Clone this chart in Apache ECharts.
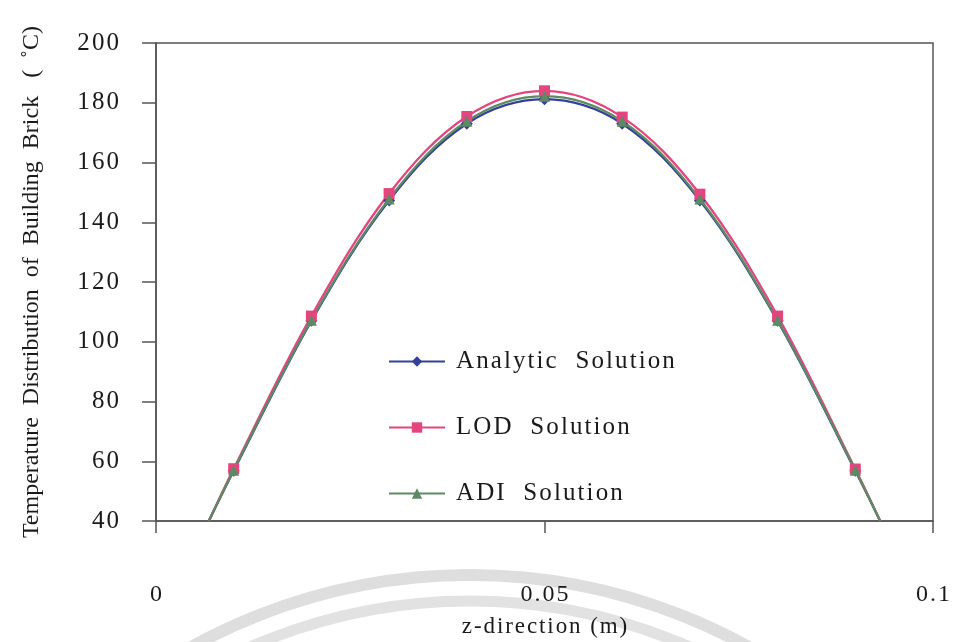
<!DOCTYPE html>
<html>
<head>
<meta charset="utf-8">
<script src="https://cdn.jsdelivr.net/npm/echarts@6/dist/echarts.min.js"></script>
<style>
  html, body { margin: 0; padding: 0; background: #ffffff; }
  #chart { width: 960px; height: 642px; }
</style>
</head>
<body>
<div id="chart"></div>
<script>
// z positions (m) across the brick wall; the first and last points are where
// each profile meets the 40 °C floor of the plot
const zPositions = [0.0068, 0.01, 0.02, 0.03, 0.04, 0.05, 0.06, 0.07, 0.08, 0.09, 0.0932];

// temperature (°C) at each z position
const analyticValues = [40, 56.8, 107.0, 147.3, 173.0, 181.2, 173.0, 147.3, 107.0, 56.8, 40];
const lodValues      = [40, 57.5, 108.6, 149.6, 175.4, 184.0, 175.2, 149.4, 108.6, 57.4, 40];
const adiValues      = [40, 57.0, 107.2, 147.8, 173.8, 182.2, 173.8, 147.8, 107.2, 57.0, 40];

const seriesNames = ['Analytic  Solution', 'LOD  Solution', 'ADI  Solution'];
const seriesColors = ['#34409a', '#e4457f', '#5c8a62'];
const seriesSymbols = ['diamond', 'rect', 'triangle'];

// y ticks: 40 .. 200 step 20, x ticks: 0, 0.05, 0.1
const yMin = 40, yMax = 200, yStep = 20;
const xMin = 0, xMax = 0.1, xStep = 0.05;

// spread the glyphs of a label a little apart
const spaced = s => String(s).split('').join('\u200A');

const serifFont = '"Liberation Serif", "DejaVu Serif", serif';
const inkColor = '#1a1a1a';
const axisColor = '#555555';

function buildSeries(idx, values) {
  const last = values.length - 1;
  return {
    name: seriesNames[idx],
    type: 'line',
    smooth: 0.35,
    clip: true,
    symbol: seriesSymbols[idx],
    symbolSize: idx === 0 ? 12 : 11,
    lineStyle: { color: seriesColors[idx], width: 2.3 },
    itemStyle: { color: seriesColors[idx], borderWidth: 0 },
    data: values.map((v, i) => {
      const item = { value: [zPositions[i], v] };
      if (i === 0 || i === last) item.symbol = 'none';
      return item;
    })
  };
}

const chart = echarts.init(document.getElementById('chart'), null, { renderer: 'canvas' });

chart.setOption({
  animation: false,
  backgroundColor: '#ffffff',
  grid: {
    left: 156, right: 27, top: 43, bottom: 121,
    containLabel: false,
    outerBoundsMode: 'none',
    show: true, borderColor: axisColor, borderWidth: 1.5, backgroundColor: 'transparent'
  },
  xAxis: {
    type: 'value',
    min: xMin, max: xMax, interval: xStep,
    name: spaced('z-direction (m)'),
    nameLocation: 'middle',
    nameGap: 94,
    nameTextStyle: { fontFamily: serifFont, fontSize: 23, color: inkColor },
    axisLine: { show: true, onZero: false, lineStyle: { color: axisColor, width: 1.5 } },
    axisTick: { show: true, inside: false, length: 12, lineStyle: { color: axisColor, width: 1.5 } },
    axisLabel: {
      margin: 62, fontFamily: serifFont, fontSize: 24, color: inkColor,
      formatter: v => spaced(v === 0 ? '0' : (Math.round(v * 100) / 100).toString())
    },
    splitLine: { show: false }
  },
  yAxis: {
    type: 'value',
    min: yMin, max: yMax, interval: yStep,
    name: 'Temperature  Distribution  of  Building  Brick   (  \u02DAC)',
    nameLocation: 'middle',
    nameRotate: 90,
    nameGap: 112,
    nameTextStyle: { fontFamily: serifFont, fontSize: 24, color: inkColor },
    axisLine: { show: true, lineStyle: { color: axisColor, width: 1.5 } },
    axisTick: { show: true, inside: false, length: 14, lineStyle: { color: axisColor, width: 1.5 } },
    axisLabel: {
      margin: 37, fontFamily: serifFont, fontSize: 25, color: inkColor,
      formatter: v => spaced(v)
    },
    splitLine: { show: false }
  },
  legend: {
    orient: 'vertical',
    left: 383, top: 344,
    itemGap: 41,
    itemWidth: 56, itemHeight: 13,
    data: seriesNames,
    textStyle: {
      fontFamily: serifFont, fontSize: 25, color: inkColor, lineHeight: 24,
      padding: [0, 0, 0, 6]
    },
    formatter: name => spaced(name)
  },
  graphic: [
    // faint grey ring marks along the bottom edge
    {
      type: 'arc', z: -10, silent: true,
      shape: { cx: 470, cy: 1150, r: 575, startAngle: Math.PI, endAngle: 2 * Math.PI },
      style: { stroke: '#dedede', lineWidth: 12, fill: null }
    },
    {
      type: 'arc', z: -10, silent: true,
      shape: { cx: 470, cy: 1150, r: 549, startAngle: Math.PI, endAngle: 2 * Math.PI },
      style: { stroke: '#e2e2e2', lineWidth: 11, fill: null }
    }
  ],
  series: [
    buildSeries(0, analyticValues),
    buildSeries(1, lodValues),
    buildSeries(2, adiValues)
  ]
});
</script>
</body>
</html>
